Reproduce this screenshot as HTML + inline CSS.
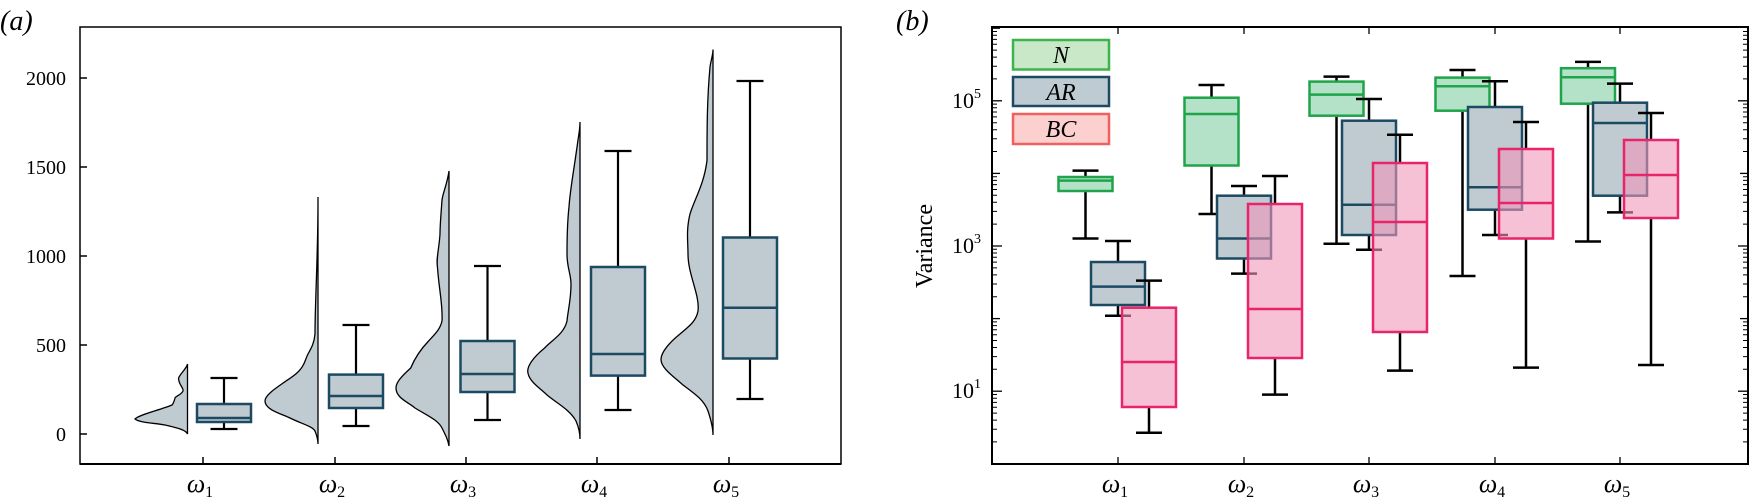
<!DOCTYPE html>
<html><head><meta charset="utf-8"><style>
html,body{margin:0;padding:0;background:#fff}
svg{display:block}
text{font-family:"Liberation Serif",serif}
</style></head><body>
<svg width="1749" height="498" viewBox="0 0 1749 498" xmlns="http://www.w3.org/2000/svg">
<!-- Panel a -->
<text x="0" y="30" font-size="28" font-style="italic">(a)</text>
<rect x="80" y="27" width="761" height="437" fill="none" stroke="#000" stroke-width="1.5"/>
<line x1="80" y1="464" x2="841" y2="464" stroke="#000" stroke-width="2"/>
<g stroke="#000" stroke-width="1.5">
<line x1="80" y1="78" x2="87" y2="78"/><line x1="80" y1="167" x2="87" y2="167"/><line x1="80" y1="256" x2="87" y2="256"/><line x1="80" y1="345" x2="87" y2="345"/><line x1="80" y1="434" x2="87" y2="434"/>
<line x1="203" y1="464" x2="203" y2="457"/><line x1="335" y1="464" x2="335" y2="457"/><line x1="466" y1="464" x2="466" y2="457"/><line x1="597" y1="464" x2="597" y2="457"/><line x1="729" y1="464" x2="729" y2="457"/>
</g>
<g font-size="20" text-anchor="end">
<text x="66" y="85">2000</text><text x="66" y="174">1500</text><text x="66" y="263">1000</text><text x="66" y="352">500</text><text x="66" y="441">0</text>
</g>
<g font-size="26" font-style="italic" text-anchor="middle">
<text x="200" y="492">ω<tspan font-size="16" dy="5" font-style="normal">1</tspan></text>
<text x="332" y="492">ω<tspan font-size="16" dy="5" font-style="normal">2</tspan></text>
<text x="463" y="492">ω<tspan font-size="16" dy="5" font-style="normal">3</tspan></text>
<text x="594" y="492">ω<tspan font-size="16" dy="5" font-style="normal">4</tspan></text>
<text x="726" y="492">ω<tspan font-size="16" dy="5" font-style="normal">5</tspan></text>
</g>
<!-- violins -->
<g fill="#bfcbd1" stroke="#000" stroke-width="1.3">
<path d="M187.5,364 C187,368 180,374 178.6,378 C178,384 184,388 183,391 C181,395 176,396 175,398 C174,402 173,404 172,405 C160,410 138,415 135,419 C140,423 155,423 165,425 C178,428 186,430 187.5,434 Z"/>
<path d="M318,197 C318,260 315,300 315,334 C314,345 310,350 308,354 C306,358 305,362 303.5,364.5 C300,372 292,377 286,381 C276,388 265,395 265,401 C265,410 282,414 290,418 C302,424 312,426 315,431 C317,436 318,440 318,444 Z"/>
<path d="M449,171 C447,185 443,192 442,200 C441,215 440,225 440,234 C439,250 436,258 437.5,267.5 C439,290 443,305 442,321 C440,330 434,335 428.6,341 C420,350 414,360 410.7,368 C402,376 396,382 396,388 C396,398 408,402 415,408 C428,416 438,420 442,428 C446,436 448,440 449,446 Z"/>
<path d="M580,122 C580,128 579,134 578,140 C574,170 570,190 569,207 C567,225 567,240 567,254 C567,268 571,274 571,284 C571,300 568,310 567,321 C564,334 552,340 544.6,348 C535,356 528,364 527.7,371 C528,381 540,388 547,395 C558,404 570,410 576,421 C579,428 580,434 580,439 Z"/>
<path d="M713,49.5 C713,55 711,60 710,67 C707,100 707,130 707,160.5 C704,185 694,200 690,214 C686,230 688,242 688,254 C688,275 700,295 698,311 C696,322 688,327 680,334 C670,342 661,352 661,359.5 C661,368 673,376 683,385 C695,394 704,400 708,411 C711,420 713,428 713,435 Z"/>
</g>
<!-- boxes a -->
<g stroke="#000" stroke-width="2.2">
<line x1="224" y1="378" x2="224" y2="429"/><line x1="210.5" y1="378" x2="237.5" y2="378"/><line x1="210.5" y1="429" x2="237.5" y2="429"/>
<line x1="356" y1="325" x2="356" y2="426"/><line x1="342.5" y1="325" x2="369.5" y2="325"/><line x1="342.5" y1="426" x2="369.5" y2="426"/>
<line x1="487.5" y1="266" x2="487.5" y2="420"/><line x1="474" y1="266" x2="501" y2="266"/><line x1="474" y1="420" x2="501" y2="420"/>
<line x1="618" y1="151" x2="618" y2="410"/><line x1="604.5" y1="151" x2="631.5" y2="151"/><line x1="604.5" y1="410" x2="631.5" y2="410"/>
<line x1="750" y1="81" x2="750" y2="399"/><line x1="736.5" y1="81" x2="763.5" y2="81"/><line x1="736.5" y1="399" x2="763.5" y2="399"/>
</g>
<g fill="#bfcbd1" stroke="#1c4a63" stroke-width="2.5">
<rect x="197" y="404" width="54" height="18"/><line x1="197" y1="418" x2="251" y2="418"/>
<rect x="329" y="374.6" width="54" height="33.4"/><line x1="329" y1="396" x2="383" y2="396"/>
<rect x="460.5" y="341" width="54" height="51"/><line x1="460.5" y1="374" x2="514.5" y2="374"/>
<rect x="591" y="267" width="54" height="108.6"/><line x1="591" y1="354" x2="645" y2="354"/>
<rect x="723" y="237.5" width="54" height="121"/><line x1="723" y1="307.7" x2="777" y2="307.7"/>
</g>

<!-- Panel b -->
<text x="896" y="30" font-size="28" font-style="italic">(b)</text>
<rect x="992" y="27" width="756" height="437" fill="none" stroke="#000" stroke-width="2"/>
<g stroke="#000" stroke-width="1.3">
<line x1="992" y1="100.8" x2="1002" y2="100.8"/><line x1="992" y1="246" x2="1002" y2="246"/><line x1="992" y1="391.2" x2="1002" y2="391.2"/>
<line x1="1748" y1="100.8" x2="1738" y2="100.8"/><line x1="1748" y1="246" x2="1738" y2="246"/><line x1="1748" y1="391.2" x2="1738" y2="391.2"/>
<line x1="992" y1="173.4" x2="1000" y2="173.4"/><line x1="992" y1="318.6" x2="1000" y2="318.6"/><line x1="992" y1="28.2" x2="1000" y2="28.2"/><line x1="992" y1="463.8" x2="1000" y2="463.8"/>
<line x1="1748" y1="173.4" x2="1740" y2="173.4"/><line x1="1748" y1="318.6" x2="1740" y2="318.6"/>
<line x1="1118" y1="464" x2="1118" y2="457"/><line x1="1244" y1="464" x2="1244" y2="457"/><line x1="1369" y1="464" x2="1369" y2="457"/><line x1="1495" y1="464" x2="1495" y2="457"/><line x1="1620" y1="464" x2="1620" y2="457"/>
<line x1="1118" y1="27" x2="1118" y2="34"/><line x1="1244" y1="27" x2="1244" y2="34"/><line x1="1369" y1="27" x2="1369" y2="34"/><line x1="1495" y1="27" x2="1495" y2="34"/><line x1="1620" y1="27" x2="1620" y2="34"/>
</g>
<g stroke="#000" stroke-width="1">
<path id="minor" d=""/>
</g>
<g font-size="22">
<text x="952" y="108">10<tspan font-size="14" dy="-10">5</tspan></text>
<text x="952" y="253">10<tspan font-size="14" dy="-10">3</tspan></text>
<text x="952" y="398">10<tspan font-size="14" dy="-10">1</tspan></text>
</g>
<text transform="translate(932,246) rotate(-90)" font-size="24" text-anchor="middle">Variance</text>
<g font-size="26" font-style="italic" text-anchor="middle">
<text x="1115" y="492">ω<tspan font-size="16" dy="5" font-style="normal">1</tspan></text>
<text x="1241" y="492">ω<tspan font-size="16" dy="5" font-style="normal">2</tspan></text>
<text x="1366" y="492">ω<tspan font-size="16" dy="5" font-style="normal">3</tspan></text>
<text x="1492" y="492">ω<tspan font-size="16" dy="5" font-style="normal">4</tspan></text>
<text x="1617" y="492">ω<tspan font-size="16" dy="5" font-style="normal">5</tspan></text>
</g>
<!-- legend -->
<rect x="1013" y="40" width="96" height="29.5" fill="#c8e8c8" stroke="#3cb44b" stroke-width="2.5"/>
<rect x="1013" y="77" width="96" height="29" fill="#bfcbd3" stroke="#1c4a63" stroke-width="2.5"/>
<rect x="1013" y="114" width="96" height="30" fill="#fdd0d0" stroke="#f06060" stroke-width="2.5"/>
<g font-size="24" font-style="italic" text-anchor="middle">
<text x="1061" y="63">N</text><text x="1061" y="100">AR</text><text x="1061" y="137">BC</text>
</g>
<g id="bx" stroke-width="2.5"></g>
</svg>
<script>
(function(){
var d="";
for(var dec=0;dec<6;dec++){for(var k=2;k<10;k++){var y=246-(dec+Math.log10(k)-3)*72.6;if(y<27||y>464)continue;
d+="M992,"+y.toFixed(1)+"h5M1748,"+y.toFixed(1)+"h-5";}}
document.getElementById("minor").setAttribute("d",d);
var S={N:["#b3e2c9","#1fa44a"],A:["#bfcbd1","#1c4a63"],B:["rgba(240,150,185,0.6)","#e8246b"]};
var data=[
["N",1085.5,170.6,177,180.6,191,238.5],["A",1118,241,262,286.6,305,315.7],["B",1149,280.6,307.7,362,407,432.8],
["N",1211.5,85,97.7,114,165.5,214],["A",1244,186,195.7,238.5,258.5,273.6],["B",1275,176,204,309,358,394.6],
["N",1336.5,76.6,81.6,94.6,115.7,243.8],["A",1369,99,120.7,204.7,235,249.8],["B",1400,134.8,163,222,332,370.6],
["N",1462.5,70,77.6,86.3,110.7,276],["A",1495,81.3,107,187.3,209.7,235],["B",1526,122,149,203,238.5,367.6],
["N",1588,61.9,68.2,77.3,103.7,241.5],["A",1620,83.6,102.7,123,195.7,212.4],["B",1651,113,140,175,218,365]];
var h="";
data.forEach(function(b){var s=S[b[0]],c=b[1];
h+='<g stroke="#000"><line x1="'+c+'" y1="'+b[2]+'" x2="'+c+'" y2="'+b[3]+'"/><line x1="'+c+'" y1="'+b[5]+'" x2="'+c+'" y2="'+b[6]+'"/>'+
'<line x1="'+(c-13)+'" y1="'+b[2]+'" x2="'+(c+13)+'" y2="'+b[2]+'"/><line x1="'+(c-13)+'" y1="'+b[6]+'" x2="'+(c+13)+'" y2="'+b[6]+'"/></g>'+
'<rect x="'+(c-27)+'" y="'+b[3]+'" width="54" height="'+(b[5]-b[3])+'" fill="'+s[0]+'" stroke="'+s[1]+'"/>'+
'<line x1="'+(c-27)+'" y1="'+b[4]+'" x2="'+(c+27)+'" y2="'+b[4]+'" stroke="'+s[1]+'"/>';});
document.getElementById("bx").innerHTML=h;
})();
</script>
</body></html>
